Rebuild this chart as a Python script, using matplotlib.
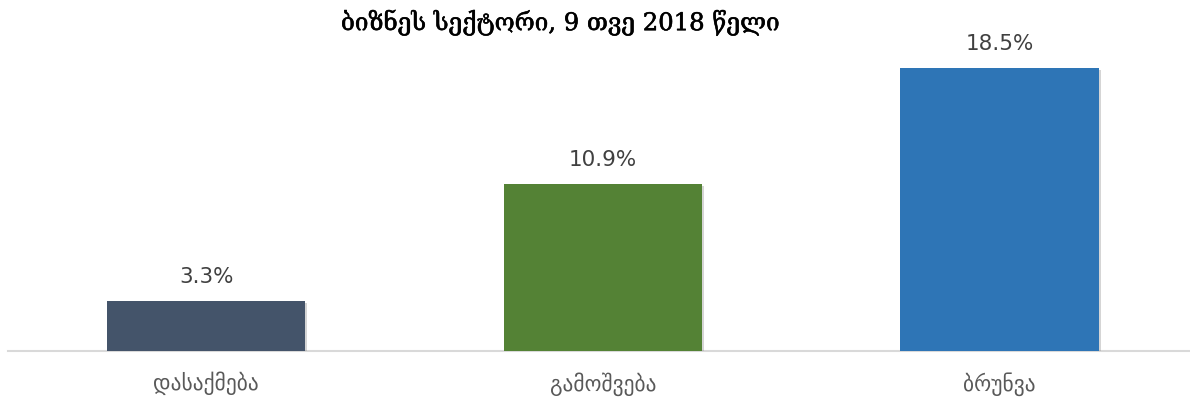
import numpy as np
import matplotlib.pyplot as plt
import matplotlib.patheffects as pe

# data
kategorije = ['დასაქმება', 'გამოშვება', 'ბრუნვა']
vrijednosti = [3.3, 10.9, 18.5]
boje = ['#44546A', '#548235', '#2E75B6']
naslov = 'ბიზნეს სექტორი, 9 თვე 2018 წელი'

fig = plt.figure(figsize=(11.9, 4), dpi=100)
ax = fig.add_axes([0.0065, 0.1225, 0.9935, 0.765])

x = np.arange(len(kategorije))
bars = ax.bar(x, vrijednosti, width=0.5, color=boje, zorder=3)
for b in bars:
    b.set_path_effects([pe.SimplePatchShadow(offset=(1.5, -1.5), shadow_rgbFace='#888888', alpha=0.35), pe.Normal()])

for xi, v in zip(x, vrijednosti):
    ax.text(xi, v + 0.9, f'{v:.1f}%', ha='center', va='bottom', fontsize=15.5, color='#404040')

ax.set_xlim(-0.5, 2.48)
ax.set_ylim(0, 20)
ax.set_xticks(x)
ax.set_xticklabels(kategorije, fontsize=15.5, color='#595959')
ax.tick_params(axis='x', length=0, pad=15)
ax.set_yticks([])
for s in ['top', 'right', 'left']:
    ax.spines[s].set_visible(False)
ax.spines['bottom'].set_color('#D9D9D9')
ax.spines['bottom'].set_linewidth(1.5)

# title, slightly thickened with a stroke
fig.text(0.4706, 0.943, naslov, ha='center', va='center', fontsize=17.5, family='DejaVu Serif',
         color='black', path_effects=[pe.withStroke(linewidth=0.4, foreground='black')])

plt.savefig('out.png', dpi=100)
